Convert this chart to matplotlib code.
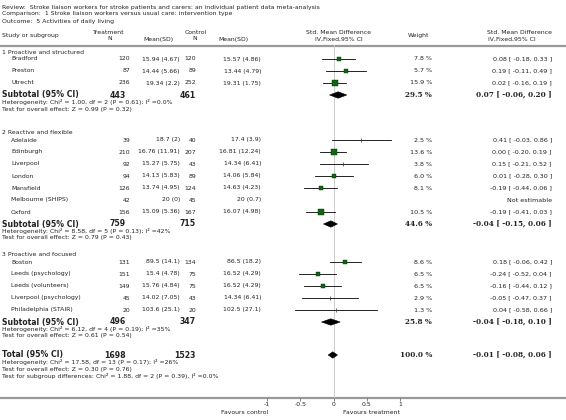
import matplotlib
matplotlib.use("Agg")
import matplotlib.pyplot as plt
from matplotlib.patches import Polygon

# ---------------- data ----------------
title_lines = [
    "Review:  Stroke liaison workers for stroke patients and carers: an individual patient data meta-analysis",
    "Comparison:  1 Stroke liaison workers versus usual care: intervention type",
    "Outcome:  5 Activities of daily living",
]
group_names = ["1 Proactive and structured", "2 Reactive and flexible", "3 Proactive and focused"]

g1_studies = ["Bradford", "Preston", "Utrecht"]
g1_tn = [120, 87, 236]
g1_tm = ["15.94 (4.67)", "14.44 (5.66)", "19.34 (2.2)"]
g1_cn = [120, 89, 252]
g1_cm = ["15.57 (4.86)", "13.44 (4.79)", "19.31 (1.75)"]
g1_w = [7.8, 5.7, 15.9]
g1_est = [0.08, 0.19, 0.02]
g1_lo = [-0.18, -0.11, -0.16]
g1_hi = [0.33, 0.49, 0.19]

g2_studies = ["Adelaide", "Edinburgh", "Liverpool", "London", "Mansfield", "Melbourne (SHIPS)", "Oxford"]
g2_tn = [39, 210, 92, 94, 126, 42, 156]
g2_tm = ["18.7 (2)", "16.76 (11.91)", "15.27 (5.75)", "14.13 (5.83)", "13.74 (4.95)", "20 (0)", "15.09 (5.36)"]
g2_cn = [40, 207, 43, 89, 124, 45, 167]
g2_cm = ["17.4 (3.9)", "16.81 (12.24)", "14.34 (6.41)", "14.06 (5.84)", "14.63 (4.23)", "20 (0.7)", "16.07 (4.98)"]
g2_w = [2.5, 13.6, 3.8, 6.0, 8.1, None, 10.5]
g2_est = [0.41, 0.00, 0.15, 0.01, -0.19, None, -0.19]
g2_lo = [-0.03, -0.20, -0.21, -0.28, -0.44, None, -0.41]
g2_hi = [0.86, 0.19, 0.52, 0.30, 0.06, None, 0.03]

g3_studies = ["Boston", "Leeds (psychology)", "Leeds (volunteers)", "Liverpool (psychology)", "Philadelphia (STAIR)"]
g3_tn = [131, 151, 149, 45, 20]
g3_tm = ["89.5 (14.1)", "15.4 (4.78)", "15.76 (4.84)", "14.02 (7.05)", "103.6 (25.1)"]
g3_cn = [134, 75, 75, 43, 20]
g3_cm = ["86.5 (18.2)", "16.52 (4.29)", "16.52 (4.29)", "14.34 (6.41)", "102.5 (27.1)"]
g3_w = [8.6, 6.5, 6.5, 2.9, 1.3]
g3_est = [0.18, -0.24, -0.16, -0.05, 0.04]
g3_lo = [-0.06, -0.52, -0.44, -0.47, -0.58]
g3_hi = [0.42, 0.04, 0.12, 0.37, 0.66]

sub_tn = [443, 759, 496]
sub_cn = [461, 715, 347]
sub_w = [29.5, 44.6, 25.8]
sub_est = [0.07, -0.04, -0.04]
sub_lo = [-0.06, -0.15, -0.18]
sub_hi = [0.20, 0.06, 0.10]
sub_het = [
    "Heterogeneity: Chi\u00b2 = 1.00, df = 2 (P = 0.61); I\u00b2 =0.0%",
    "Heterogeneity: Chi\u00b2 = 8.58, df = 5 (P = 0.13); I\u00b2 =42%",
    "Heterogeneity: Chi\u00b2 = 6.12, df = 4 (P = 0.19); I\u00b2 =35%",
]
sub_test = [
    "Test for overall effect: Z = 0.99 (P = 0.32)",
    "Test for overall effect: Z = 0.79 (P = 0.43)",
    "Test for overall effect: Z = 0.61 (P = 0.54)",
]

tot_tn, tot_cn, tot_w = 1698, 1523, 100.0
tot_est, tot_lo, tot_hi = -0.01, -0.08, 0.06
tot_lines = [
    "Heterogeneity: Chi\u00b2 = 17.58, df = 13 (P = 0.17); I\u00b2 =26%",
    "Test for overall effect: Z = 0.30 (P = 0.76)",
    "Test for subgroup differences: Chi\u00b2 = 1.88, df = 2 (P = 0.39), I\u00b2 =0.0%",
]

x_ticks = [-1, -0.5, 0, 0.5, 1]
x_ticklabels = ["-1", "-0.5", "0", "0.5", "1"]
favours_left = "Favours control"
favours_right = "Favours treatment"

groups = [
    (g1_studies, g1_tn, g1_tm, g1_cn, g1_cm, g1_w, g1_est, g1_lo, g1_hi),
    (g2_studies, g2_tn, g2_tm, g2_cn, g2_cm, g2_w, g2_est, g2_lo, g2_hi),
    (g3_studies, g3_tn, g3_tm, g3_cn, g3_cm, g3_w, g3_est, g3_lo, g3_hi),
]

# ---------------- layout / style ----------------
W, H = 566, 420
FS = 4.4       # small text
FSR = 4.6      # right-hand result column
FSB = 5.6      # bold subtotal text
FSS = 5.2      # bold serif results
TXT = "#222222"
GREEN = "#0b6a0b"
GRAY = "#999999"

fig = plt.figure(figsize=(W / 100, H / 100), dpi=100)
fig.patch.set_facecolor("white")
ax0 = fig.add_axes([0, 0, 1, 1])
ax0.set_xlim(0, W)
ax0.set_ylim(H, 0)
ax0.axis("off")

# forest axes: x=-1 at 267px, x=1 at 400px; y in pixel rows 45..398
AX_TOP, AX_BOT = 45, 398
X_L, X_R = 267, 400
axf = fig.add_axes([X_L / W, (H - AX_BOT) / H, (X_R - X_L) / W, (AX_BOT - AX_TOP) / H])
axf.set_xlim(-1, 1)
axf.set_ylim(AX_BOT, AX_TOP)
axf.patch.set_alpha(0)
for s in axf.spines.values():
    s.set_visible(False)
axf.set_yticks([])
axf.set_xticks(x_ticks)
axf.set_xticklabels(x_ticklabels, fontsize=FS, color=TXT)
axf.tick_params(axis="x", direction="out", length=2, width=0.5, pad=1, color="#555555")
axf.axvline(0, color="#cccccc", lw=0.7, zorder=0)


def t(x, y, s, ha="left", size=FS, weight="normal", family="DejaVu Sans"):
    ax0.text(x, y, s, ha=ha, va="center", fontsize=size, fontweight=weight,
             color=TXT, family=family)


# title
for i, line in enumerate(title_lines):
    t(2, 7 + 7 * i, line)

# header
t(2, 36, "Study or subgroup")
t(93, 32, "Treatment")
t(107, 39, "N")
t(143, 39, "Mean(SD)")
t(185, 32, "Control")
t(192, 39, "N")
t(218, 39, "Mean(SD)")
t(339, 32, "Std. Mean Difference", ha="center")
t(339, 39, "IV,Fixed,95% CI", ha="center")
t(408, 36, "Weight")
t(487, 32, "Std. Mean Difference")
t(488, 39, "IV,Fixed,95% CI")
ax0.plot([0, W], [45.5, 45.5], color=GRAY, lw=1.6, solid_capstyle="butt")

# rows
group_header_y = [52, 133, 255]
row_step = 12


def diamond(y, est, lo, hi, hh=3.2):
    axf.add_patch(Polygon([(lo, y), (est, y - hh), (hi, y), (est, y + hh)],
                          closed=True, facecolor="black", edgecolor="black", lw=0.4))


for gi, (studies, tn, tm, cn, cm, w, est, lo, hi) in enumerate(groups):
    gy = group_header_y[gi]
    t(2, gy, group_names[gi])
    y = gy + 7
    for k in range(len(studies)):
        t(11, y, studies[k])
        t(130, y, str(tn[k]), ha="right")
        t(180, y, tm[k], ha="right")
        t(196, y, str(cn[k]), ha="right")
        t(261, y, cm[k], ha="right")
        if w[k] is None:
            t(552, y, "Not estimable", ha="right", size=FSR)
        else:
            t(432, y, f"{w[k]:.1f} %", ha="right", size=FSR)
            t(552, y, f"{est[k]:.2f} [ {lo[k]:.2f}, {hi[k]:.2f} ]", ha="right", size=FSR)
            axf.plot([lo[k], hi[k]], [y, y], color="black", lw=0.6, zorder=2)
            if w[k] >= 5:
                side_pt = 1.2 * w[k] ** 0.5
                axf.scatter([est[k]], [y], marker="s", s=side_pt ** 2,
                            facecolor=GREEN, edgecolor="#003300", linewidths=0.3, zorder=3)
            else:
                axf.plot([est[k]], [y], marker="|", ms=2.5, mew=0.5, color="#333333", zorder=3)
        y += row_step
    # subtotal
    t(2, y, "Subtotal (95% CI)", size=FSB, weight="bold")
    t(126, y, str(sub_tn[gi]), ha="right", size=FSB, weight="bold")
    t(196, y, str(sub_cn[gi]), ha="right", size=FSB, weight="bold")
    t(432, y, f"{sub_w[gi]:.1f} %", ha="right", size=FSS, weight="bold", family="DejaVu Serif")
    t(552, y, f"{sub_est[gi]:.2f} [ {sub_lo[gi]:.2f}, {sub_hi[gi]:.2f} ]", ha="right",
      size=FSS, weight="bold", family="DejaVu Serif")
    diamond(y, sub_est[gi], sub_lo[gi], sub_hi[gi])
    t(2, y + 7, sub_het[gi])
    t(2, y + 14, sub_test[gi])

# total
ty = 355
t(2, ty, "Total (95% CI)", size=FSB, weight="bold")
t(126, ty, str(tot_tn), ha="right", size=FSB, weight="bold")
t(196, ty, str(tot_cn), ha="right", size=FSB, weight="bold")
t(432, ty, f"{tot_w:.1f} %", ha="right", size=FSS, weight="bold", family="DejaVu Serif")
t(552, ty, f"{tot_est:.2f} [ {tot_lo:.2f}, {tot_hi:.2f} ]", ha="right",
  size=FSS, weight="bold", family="DejaVu Serif")
diamond(ty, tot_est, tot_lo, tot_hi)
for i, line in enumerate(tot_lines):
    t(2, ty + 7 + 7 * i, line)

# bottom axis line
ax0.plot([0, W], [398, 398], color=GRAY, lw=1.6, solid_capstyle="butt", zorder=1)
t(268, 413, favours_left, ha="right")
t(400, 413, favours_right, ha="right")

fig.savefig("out.png", dpi=100, facecolor="white")
